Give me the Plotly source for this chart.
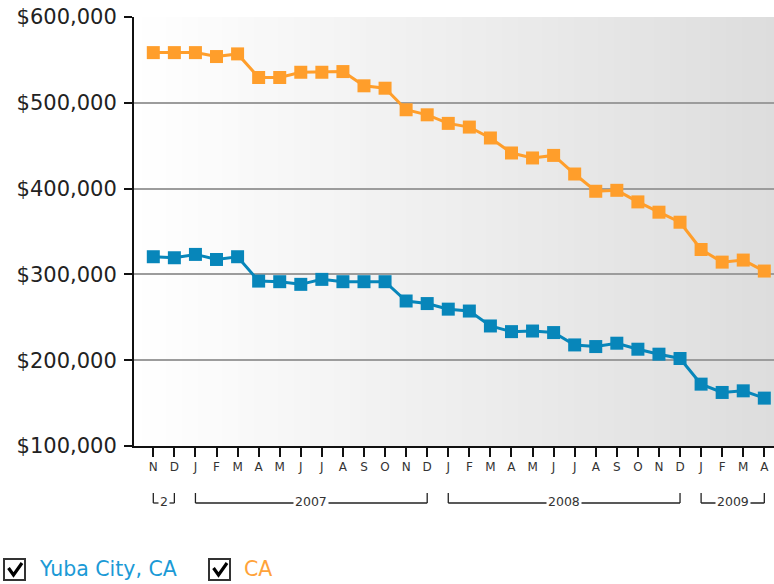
import plotly.graph_objects as go

# Monthly median home value, Nov 2006 - Apr 2009
periods = [
    "2006-11", "2006-12",
    "2007-01", "2007-02", "2007-03", "2007-04", "2007-05", "2007-06",
    "2007-07", "2007-08", "2007-09", "2007-10", "2007-11", "2007-12",
    "2008-01", "2008-02", "2008-03", "2008-04", "2008-05", "2008-06",
    "2008-07", "2008-08", "2008-09", "2008-10", "2008-11", "2008-12",
    "2009-01", "2009-02", "2009-03", "2009-04",
]
month_letters = ["N", "D",
                 "J", "F", "M", "A", "M", "J", "J", "A", "S", "O", "N", "D",
                 "J", "F", "M", "A", "M", "J", "J", "A", "S", "O", "N", "D",
                 "J", "F", "M", "A"]

yuba_city = [
    320600, 319400,
    323300, 317400, 320600, 292200, 291500, 288400, 294200, 291500, 291500, 291500, 269000, 266000,
    259500, 257300, 239900, 233300, 234000, 232200, 217800, 215900, 219800, 212800, 207000, 202000,
    172100, 162400, 164300, 155800,
]
california = [
    558500, 558500,
    558500, 553900, 557000, 529500, 529500, 535600, 535600, 536400, 519800, 517000, 491900, 486000,
    476000, 471700, 459000, 441500, 435700, 438700, 417000, 396900, 398000, 384500, 372500, 360800,
    329000, 314300, 316700, 303900,
]

# Year groups drawn as brackets under the month letters: (label, first period, last period)
year_groups = [
    ("2", "2006-11", "2006-12"),
    ("2007", "2007-01", "2007-12"),
    ("2008", "2008-01", "2008-12"),
    ("2009", "2009-01", "2009-04"),
]

series_names = ["Yuba City, CA", "CA"]
blue = "#0786BA"
orange = "#FF9E2B"

W, H = 774, 584
L, R, T, B = 134, 0, 17, 138
PW, PH = W - L - R, H - T - B


def px(x):
    return (x - L) / PW


def py(y):
    return (H - B - y) / PH


fig = go.Figure()

for name, vals, col in [(series_names[0], yuba_city, blue), (series_names[1], california, orange)]:
    fig.add_trace(go.Scatter(
        x=periods, y=vals, name=name, mode="lines+markers",
        line=dict(color=col, width=3),
        marker=dict(symbol="square", size=13, color=col),
        showlegend=False,
    ))

shapes = []
# horizontal grey gradient behind the plot
n_strips = 80
for i in range(n_strips):
    g = round(255 - (255 - 221) * (i + 0.5) / n_strips)
    shapes.append(dict(
        type="rect", xref="x domain", yref="y domain",
        x0=i / n_strips, x1=(i + 1) / n_strips + 0.002, y0=0, y1=1,
        fillcolor=f"rgb({g},{g},{g})", line=dict(width=0), layer="below",
    ))

annotations = []
# year brackets
y_top, y_bot, y_txt = py(493), py(503), py(501)
for label, first, last in year_groups:
    i0, i1 = periods.index(first), periods.index(last)
    for (xa, ya, xb, yb) in [(i0, y_top, i0, y_bot), (i0, y_bot, i1, y_bot), (i1, y_bot, i1, y_top)]:
        shapes.append(dict(type="line", xref="x", yref="paper",
                           x0=xa, y0=ya, x1=xb, y1=yb,
                           line=dict(color="#222222", width=1.3)))
    annotations.append(dict(
        x=(i0 + i1) / 2, y=y_txt, xref="x", yref="paper", text=label,
        showarrow=False, font=dict(family="DejaVu Sans", size=12.5, color="#333333"),
        bgcolor="white", borderpad=1, xanchor="center", yanchor="middle",
    ))

# checkbox legend
legend_items = [
    (series_names[0], "#1B9AD6", 4, 37),
    (series_names[1], "#FFA33A", 209, 242),
]
for name, col, bx, tx in legend_items:
    shapes.append(dict(type="rect", xref="paper", yref="paper",
                       x0=px(bx), x1=px(bx + 21), y0=py(559), y1=py(580),
                       fillcolor="white", line=dict(color="#333333", width=2)))
    shapes.append(dict(type="path", xref="paper", yref="paper",
                       path=(f"M {px(bx + 4.5)},{py(568)} L {px(bx + 9.5)},{py(575)} "
                             f"L {px(bx + 18)},{py(563)}"),
                       line=dict(color="black", width=3.2)))
    annotations.append(dict(
        x=px(tx), y=py(569), xref="paper", yref="paper", text=name,
        showarrow=False, xanchor="left", yanchor="middle",
        font=dict(family="DejaVu Sans", size=20.5, color=col),
    ))

fig.update_layout(
    width=W, height=H,
    margin=dict(l=L, r=R, t=T, b=B),
    paper_bgcolor="white", plot_bgcolor="white",
    shapes=shapes, annotations=annotations,
    xaxis=dict(
        type="category", range=[-0.916, 29.46],
        tickvals=periods, ticktext=month_letters,
        showgrid=False, showline=True, linecolor="#111111", linewidth=2,
        ticks="outside", ticklen=9, tickwidth=1.5, tickcolor="#111111",
        tickfont=dict(family="DejaVu Sans", size=12, color="#333333"),
    ),
    yaxis=dict(
        range=[100000, 600000],
        tickvals=[100000, 200000, 300000, 400000, 500000, 600000],
        tickformat="$,.0f",
        showgrid=True, gridcolor="#9c9c9c", gridwidth=2,
        showline=True, linecolor="#111111", linewidth=2,
        ticks="outside", ticklen=8, tickwidth=1.5, tickcolor="#111111",
        tickfont=dict(family="DejaVu Sans", size=21, color="#222222"),
        ticklabelstandoff=3,
        zeroline=False,
    ),
)

fig.write_html("out.html")
